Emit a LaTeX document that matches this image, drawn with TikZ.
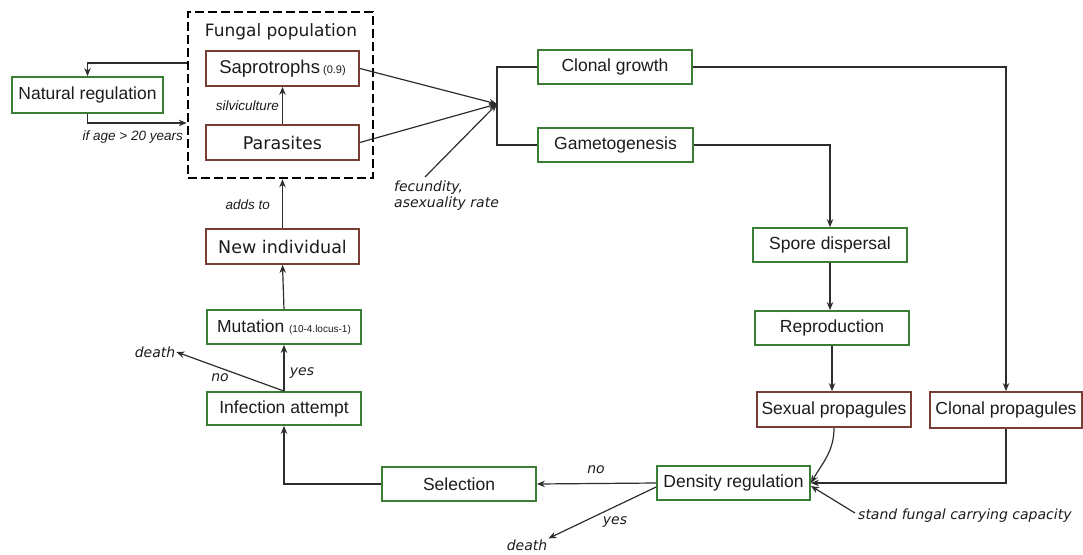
\documentclass[tikz,border=0pt]{standalone}
\usepackage{fontspec}
\setmainfont{Liberation Sans}
\newfontfamily\dvs{DejaVu Sans}
\usetikzlibrary{arrows.meta}
\definecolor{boxgreen}{RGB}{58,125,52}
\definecolor{boxbrown}{RGB}{120,62,52}
\definecolor{txt}{RGB}{28,28,28}
\definecolor{lin}{RGB}{45,45,45}
\tikzset{
  basebox/.style={fill=white, line width=1.8pt, inner sep=0pt, minimum height=34pt, minimum width=154pt, text=txt, font=\fontsize{17.5}{20}\selectfont},
  gbox/.style={basebox, draw=boxgreen},
  bbox/.style={basebox, draw=boxbrown},
  arr/.style={draw=lin, line width=1.2pt, -{Stealth[length=8pt,width=6.5pt]}},
  plain/.style={draw=lin, line width=1.2pt},
  lblA/.style={text=txt, inner sep=1pt, font=\fontsize{13.5}{15}\selectfont\itshape},
  lblD/.style={text=txt, inner sep=1pt, font=\dvs\fontsize{14}{17}\selectfont\itshape},
}
\begin{document}
\begin{tikzpicture}[x=1pt,y=-1pt]
\useasboundingbox (0,0) rectangle (1083,554);
% dashed group
\node[draw=black, line width=2.6pt, dash pattern=on 9pt off 4pt, minimum width=185pt, minimum height=166pt, inner sep=0pt] (fungal) at (280.5,95) {};
\node[text=txt, font=\dvs\fontsize{17}{20}\selectfont] (fungtitle) at (281,32) {Fungal population};
% boxes
\node[gbox, minimum width=151pt, minimum height=36pt] (natreg) at (87.5,95) {Natural regulation};
\node[bbox, minimum width=153pt, minimum height=35pt, font=\fontsize{18.5}{21}\selectfont] (sapro) at (282.5,68.5) {Saprotrophs\,{\fontsize{11}{13}\selectfont(0.9)}};
\node[bbox, minimum width=153pt, minimum height=35pt, font=\dvs\fontsize{17.5}{20}\selectfont] (paras) at (282.5,142.5) {Parasites};
\node[gbox] (clonal) at (615,67) {Clonal growth};
\node[gbox, minimum width=155pt] (gameto) at (615.5,145) {Gametogenesis};
\node[gbox] (spore) at (830,245) {Spore dispersal};
\node[gbox] (repro) at (832,328) {Reproduction};
\node[bbox, minimum height=35pt] (sexual) at (834,409.5) {Sexual propagules};
\node[bbox, minimum width=152pt, minimum height=36pt] (clonprop) at (1006,410) {Clonal propagules};
\node[gbox, minimum width=153pt] (density) at (733.5,483) {Density regulation};
\node[gbox] (selection) at (459,484) {Selection};
\node[gbox, minimum height=33pt] (infect) at (284,408.5) {Infection attempt};
\node[gbox] (mutation) at (284,327) {Mutation {\fontsize{10}{12}\selectfont(10-4.locus-1)}};
\node[bbox, minimum width=153pt, minimum height=35pt, font=\dvs\fontsize{17.5}{20}\selectfont] (newind) at (282.5,246.5) {New individual};
% coordinates
\coordinate (conv) at (497,104);
\coordinate (fec) at (425,177);
\coordinate (stand) at (855,513);
% labels
\node[lblA, anchor=east] (silv) at (280,106) {silviculture};
\node[lblA, anchor=east] (ifage) at (184,137) {if age > 20 years};
\node[lblA, anchor=east] (adds) at (271,205) {adds to};
\node[lblD, anchor=north west, align=left] (fecl) at (393,180) {fecundity,\\[-1pt]asexuality rate};
\node[lblD, anchor=west] (standl) at (857,516) {stand fungal carrying capacity};
\node[lblD] (death1) at (155,352) {death};
\node[lblD] (no1) at (220,378) {no};
\node[lblD] (yes1) at (302,373) {yes};
\node[lblD] (no2) at (596,470) {no};
\node[lblD] (yes2) at (615,522) {yes};
\node[lblD] (death2) at (527,545) {death};
% connectors
\draw[arr] (fungal.west |- 0,63) -| (natreg.north);
\draw[arr] (natreg.south) |- (fungal.west |- 0,123);
\draw[arr] (paras.north) -- (sapro.south);
\draw[arr] (sapro.east) -- (conv);
\draw[arr] (paras.east) -- (conv);
\draw[arr] (fec) -- (conv);
\draw[plain] (clonal.west) -| (conv) |- (gameto.west);
\draw[arr] (clonal.east) -| (clonprop.north);
\draw[arr] (gameto.east) -| (spore.north);
\draw[arr] (spore.south) -- (spore.south |- repro.north);
\draw[arr] (repro.south) -- (repro.south |- sexual.north);
\draw[arr] (sexual.south) to[out=-90,in=60] (density.east);
\draw[arr] (clonprop.south) |- (density.east);
\draw[arr] (stand) -- ([yshift=-3pt]density.east);
\draw[arr] (density.west) -- (selection.east);
\draw[arr] ([yshift=-4pt]density.west) -- (death2.north east);
\draw[arr] (selection.west) -| (infect.south);
\draw[arr] (infect.north) -- (mutation.south);
\draw[arr] (infect.north) -- (death1.east);
\draw[arr] (mutation.north) -- (newind.south);
\draw[arr] (newind.north) -- (newind.north |- fungal.south);
\end{tikzpicture}
\end{document}
